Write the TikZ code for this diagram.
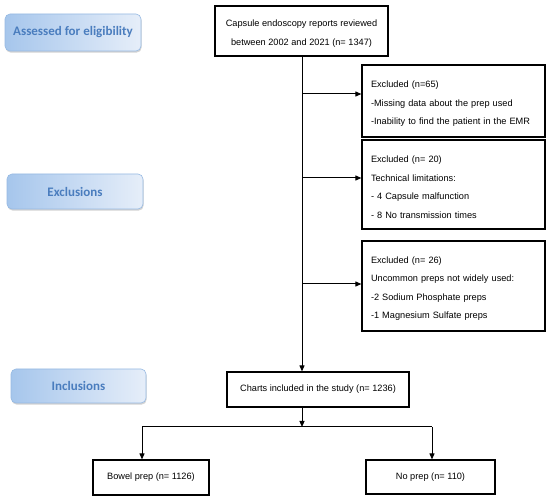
\documentclass[tikz,border=0pt]{standalone}
\usepackage{fontspec}
\setmainfont{Liberation Sans}
\newfontfamily\calib{Carlito}
\usetikzlibrary{arrows.meta,shadows}
\definecolor{bluetxt}{RGB}{74,125,190}
\definecolor{blueA}{RGB}{166,198,236}
\definecolor{blueB}{RGB}{230,238,249}
\definecolor{blueEdge}{RGB}{150,185,226}
\newcommand{\dropstrut}{\rule{0pt}{12pt}}
\begin{document}
\begin{tikzpicture}[x=1pt,y=-1pt,
  box/.style={draw=black, line width=1.2pt, inner sep=0pt, font=\fontsize{9.2}{18.5}\selectfont, align=center},
  exbox/.style={box, align=left, inner xsep=9pt, text width=165pt, minimum width=183pt},
  stage/.style={draw=blueEdge, line width=0.6pt, rounded corners=5pt, left color=blueA, right color=blueB,
    drop shadow={shadow xshift=0.6pt, shadow yshift=-1.6pt, opacity=0.35},
    font=\calib\bfseries\fontsize{13}{15}\selectfont, text=bluetxt, inner sep=0pt},
  arr/.style={-{Triangle[length=6pt,width=5pt]}, line width=1pt},
  ln/.style={line width=1pt}]

\useasboundingbox (0,0) rectangle (550,500);

% stage labels
\node[stage, minimum width=136pt, minimum height=37pt] (assess) at (73,32.5) {Assessed for eligibility};
\node[stage, minimum width=136pt, minimum height=35pt] (excl) at (75,191.5) {Exclusions};
\node[stage, minimum width=135pt, minimum height=34pt] (incl) at (78.5,386) {Inclusions};

% boxes
\node[box, minimum width=173pt, minimum height=50pt] (top) at (301.5,31)
  {\dropstrut Capsule endoscopy reports reviewed\\between 2002 and 2021 (n= 1347)};
\node[exbox, minimum height=72pt] (e1) at (453.5,101)
  {\dropstrut Excluded (n=65)\\-Missing data about the prep used\\-Inability to find the patient in the EMR};
\node[exbox, minimum height=89pt] (e2) at (453.5,184.5)
  {\dropstrut Excluded (n= 20)\\Technical limitations:\\- 4 Capsule malfunction\\- 8 No transmission times};
\node[exbox, minimum height=90pt] (e3) at (453.5,286)
  {\dropstrut Excluded (n= 26)\\Uncommon preps not widely used:\\-2 Sodium Phosphate preps\\-1 Magnesium Sulfate preps};
\node[box, minimum width=182pt, minimum height=35pt] (charts) at (318,389.5)
  {Charts included in the study (n= 1236)};
\node[box, minimum width=116pt, minimum height=35pt] (bowel) at (151,477.5)
  {Bowel prep (n= 1126)};
\node[box, minimum width=129pt, minimum height=34pt] (noprep) at (430.5,477)
  {No prep (n= 110)};

% connectors
\coordinate (v0) at (302,56);
\coordinate (j1) at (302,94);
\coordinate (j2) at (302,178);
\coordinate (j3) at (302,284);
\coordinate (split) at (302,427);
\coordinate (bl) at (142,427);
\coordinate (br) at (432,427);

\draw[arr] (v0) -- (v0 |- charts.north);
\draw[arr] (j1) -- (j1 -| e1.west);
\draw[arr] (j2) -- (j2 -| e2.west);
\draw[arr] (j3) -- (j3 -| e3.west);
\draw[arr] (split |- charts.south) -- (split);
\draw[ln] (bl) -- (br);
\draw[arr] (bl) -- (bl |- bowel.north);
\draw[arr] (br) -- (br |- noprep.north);
\end{tikzpicture}
\end{document}
